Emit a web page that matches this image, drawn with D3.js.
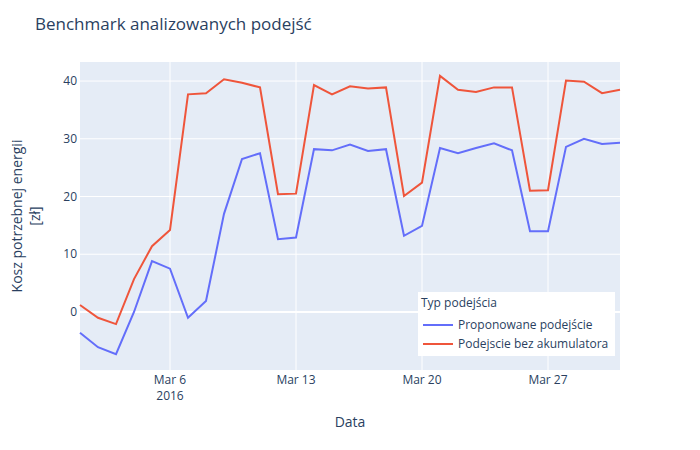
<!DOCTYPE html>
<html><head><meta charset="utf-8">
<script src="https://cdn.jsdelivr.net/npm/d3@7"></script>
<style>body{margin:0;background:#fff}text{font-family:"Open Sans",sans-serif;fill:#2a3f5f}</style>
</head><body><svg id="c" width="700" height="450"></svg>
<script>
const startDate = "2016-03-01";
const proposed = [-3.6,-6.1,-7.3,0,8.8,7.5,-1.0,1.9,17,26.5,27.5,12.6,12.9,28.2,28,29,27.9,28.2,13.2,14.9,28.4,27.5,28.4,29.2,28,14,14,28.6,30,29.1,29.3];
const noBattery = [1.2,-1.0,-2.1,5.7,11.4,14.2,37.7,37.9,40.3,39.7,38.9,20.4,20.5,39.3,37.7,39.1,38.7,38.9,20.1,22.4,40.9,38.5,38.1,38.9,38.9,21,21.1,40.1,39.9,37.9,38.5];
const seriesNames = ["Proponowane podejście","Podejscie bez akumulatora"];
const colors = ["#636efa","#EF553B"];
const yTicks = [0,10,20,30,40];
const xTickDates = ["2016-03-06","2016-03-13","2016-03-20","2016-03-27"];

const svg = d3.select("#c");
const L=80,R=620,T=62,B=370;
const parse = d3.utcParse("%Y-%m-%d");
const d0 = parse(startDate);
const dates = proposed.map((_,i)=>d3.utcDay.offset(d0,i));
const x = d3.scaleUtc().domain([dates[0],dates[dates.length-1]]).range([L,R]);
const y = d3.scaleLinear().domain([-10.05,43.3]).range([B,T]);

svg.append("rect").attr("x",L).attr("y",T).attr("width",R-L).attr("height",B-T).attr("fill","#E5ECF6");
const g = svg.append("g");
yTicks.forEach(t=>{
  g.append("line").attr("x1",L).attr("x2",R).attr("y1",y(t)).attr("y2",y(t)).attr("stroke","#fff").attr("stroke-width",t===0?2:1);
  g.append("text").attr("x",L-3).attr("y",y(t)+4).attr("text-anchor","end").attr("font-size",12).text(t);
});
xTickDates.forEach((s,i)=>{
  const d=parse(s);
  g.append("line").attr("x1",x(d)).attr("x2",x(d)).attr("y1",T).attr("y2",B).attr("stroke","#fff");
  g.append("text").attr("x",x(d)).attr("y",B+14).attr("text-anchor","middle").attr("font-size",12).text(d3.utcFormat("%b %-d")(d));
  if(i===0) g.append("text").attr("x",x(d)).attr("y",B+30).attr("text-anchor","middle").attr("font-size",12).text("2016");
});
const line = d3.line().x((d,i)=>x(dates[i])).y(d=>y(d));
[proposed,noBattery].forEach((s,k)=>{
  svg.append("path").datum(s).attr("d",line).attr("fill","none").attr("stroke",colors[k]).attr("stroke-width",2);
});
svg.append("text").attr("x",35).attr("y",30).attr("font-size",17).text("Benchmark analizowanych podejść");
svg.append("text").attr("x",(L+R)/2).attr("y",427).attr("text-anchor","middle").attr("font-size",14).text("Data");
const yl = svg.append("text").attr("transform","translate(22,216) rotate(-90)").attr("text-anchor","middle").attr("font-size",14);
yl.append("tspan").attr("x",0).attr("dy",0).text("Kosz potrzebnej energii");
yl.append("tspan").attr("x",0).attr("dy",18).text("[zł]");

const lg = svg.append("g").attr("transform","translate(418,292)");
lg.append("rect").attr("width",197).attr("height",64).attr("fill","#fff");
lg.append("text").attr("x",3).attr("y",15).attr("font-size",12).text("Typ podejścia");
seriesNames.forEach((n,k)=>{
  const yy=33+k*19;
  lg.append("line").attr("x1",5).attr("x2",35).attr("y1",yy).attr("y2",yy).attr("stroke",colors[k]).attr("stroke-width",2);
  lg.append("text").attr("x",40).attr("y",yy+4).attr("font-size",12).text(n);
});
</script></body></html>
